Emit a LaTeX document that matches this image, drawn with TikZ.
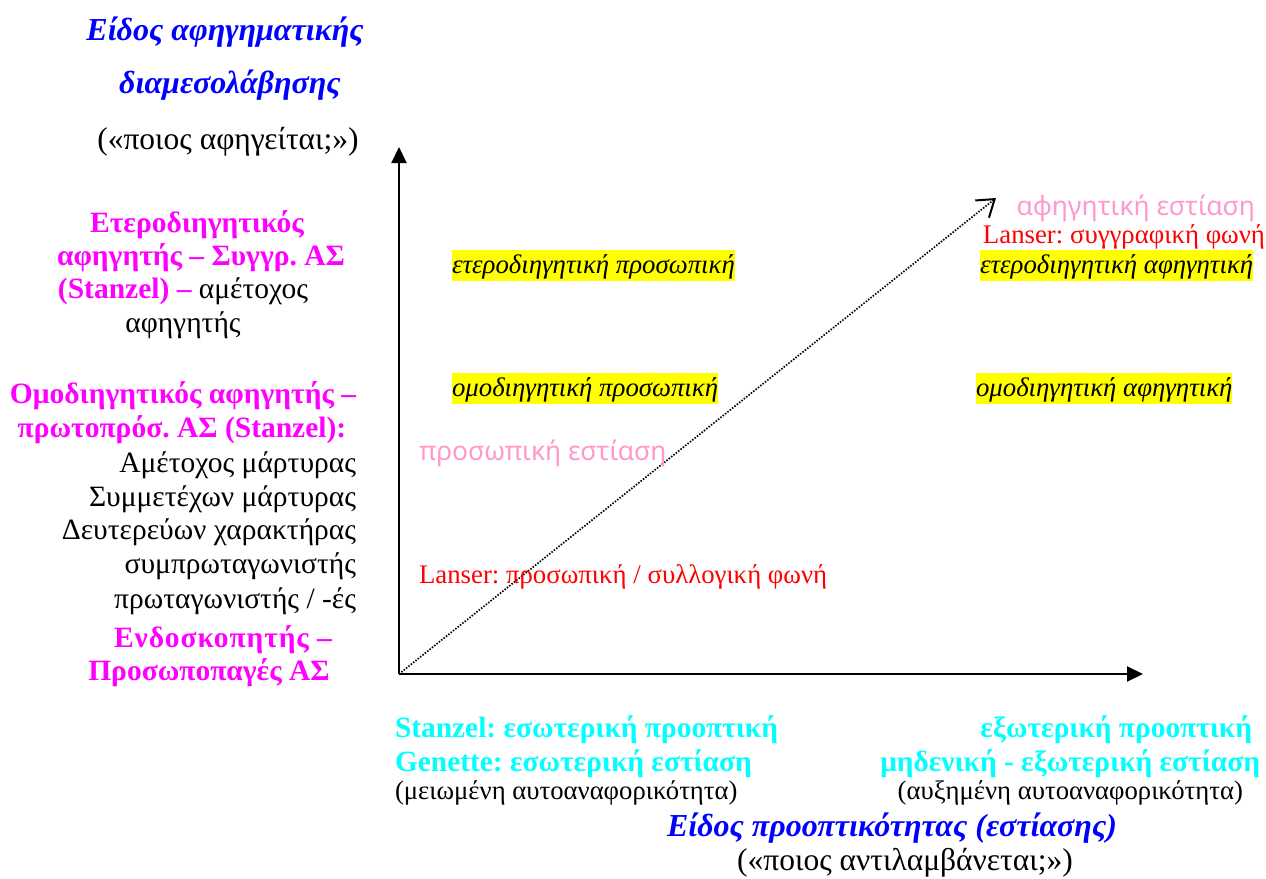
\documentclass[tikz,border=0pt]{standalone}
\usepackage{fontspec}
\setmainfont{Liberation Serif}
\newfontfamily\pinkfamily{Noto Sans}
\usetikzlibrary{arrows.meta}
\definecolor{cBlue}{RGB}{0,0,255}
\definecolor{cMag}{RGB}{255,0,255}
\definecolor{cCyan}{RGB}{0,255,255}
\definecolor{cRed}{RGB}{255,0,0}
\definecolor{cPink}{RGB}{255,153,204}
\definecolor{cYel}{RGB}{255,255,0}
\frenchspacing
\begin{document}
\begin{tikzpicture}[x=1pt,y=-1pt,
  every node/.style={inner sep=0pt,outer sep=0pt},
  reg/.style={font=\fontsize{29.5}{34}\selectfont,text=black},
  quote/.style={font=\fontsize{31.5}{36}\selectfont,text=black},
  small/.style={font=\fontsize{26.7}{32}\selectfont,text=black},
  heading/.style={font=\fontsize{32}{36}\selectfont\bfseries\itshape,text=cBlue},
  magb/.style={font=\fontsize{29.5}{34}\selectfont\bfseries,text=cMag},
  cyanb/.style={font=\fontsize{29.4}{34}\selectfont\bfseries,text=cCyan},
  lanser/.style={font=\fontsize{26.8}{32}\selectfont,text=cRed},
  focal/.style={font=\pinkfamily\fontsize{26.5}{30}\selectfont,text=cPink},
  hl/.style={font=\fontsize{26.8}{32}\selectfont\itshape,text=black,fill=cYel,text height=23pt,text depth=8pt},
  axis/.style={line width=2pt,-{Triangle[length=16pt,width=15pt]}},
  diag/.style={line width=1.7pt,dash pattern=on 1.5pt off 1.5pt,-{Straight Barb[length=16pt,width=22pt,line width=2pt]}}
]
\useasboundingbox (0,0) rectangle (1266,878);
% axes
\coordinate (O) at (399,674);
\coordinate (Ytip) at (399,147);
\coordinate (Xtip) at (1143,674);
\coordinate (Dtip) at (996,198);
\draw[axis] (O) -- (Ytip);
\draw[axis] (O) -- (Xtip);
\draw[diag] (O) -- (Dtip);
% left column
\node[heading,anchor=base] (h1) at (225,40) {Είδος αφηγηματικής};
\node[heading,anchor=base] (h2) at (230,93) {διαμεσολάβησης};
\node[quote,anchor=base] (h3) at (228,149) {(«ποιος αφηγείται;»)};
\node[magb,anchor=base] (e1) at (197,232) {Ετεροδιηγητικός};
\node[magb,anchor=base] (e2) at (201,265) {αφηγητής – Συγγρ. ΑΣ};
\node[magb,anchor=base] (e3) at (183,298) {(Stanzel) –\textcolor{black}{\mdseries\ αμέτοχος}};
\node[reg,anchor=base] (e4) at (183,332) {αφηγητής};
\node[magb,anchor=base] (o1) at (183,403) {Ομοδιηγητικός αφηγητής –};
\node[magb,anchor=base] (o2) at (182,437) {πρωτοπρόσ. ΑΣ (Stanzel):};
\node[reg,anchor=base east] (o3) at (356,472) {Αμέτοχος μάρτυρας};
\node[reg,anchor=base east] (o4) at (356,506) {Συμμετέχων μάρτυρας};
\node[reg,anchor=base east] (o5) at (356,539) {Δευτερεύων χαρακτήρας};
\node[reg,anchor=base east] (o6) at (356,573) {συμπρωταγωνιστής};
\node[reg,anchor=base east] (o7) at (356,608) {πρωταγωνιστής / -ές};
\node[magb,anchor=base] (o8) at (223,647) {\addfontfeature{LetterSpace=3}Ενδοσκοπητής –};
\node[magb,anchor=base] (o9) at (209,680) {Προσωποπαγές ΑΣ};
% inside
\node[focal,anchor=base east] (fa) at (1255,215) {αφηγητική εστίαση};
\node[lanser,anchor=base east] (la) at (1265,243) {Lanser: συγγραφική φωνή};
\node[hl,anchor=base west] (q1) at (452,273) {ετεροδιηγητική προσωπική};
\node[hl,anchor=base west] (q2) at (980,273) {ετεροδιηγητική αφηγητική};
\node[hl,anchor=base west] (q3) at (452,396) {ομοδιηγητική προσωπική};
\node[hl,anchor=base west] (q4) at (976,396) {ομοδιηγητική αφηγητική};
\node[focal,anchor=base west] (fp) at (419,460) {προσωπική εστίαση};
\node[lanser,anchor=base west] (lp) at (419,583) {Lanser: προσωπική / συλλογική φωνή};
% bottom
\node[cyanb,anchor=base west] (b1) at (395,737) {Stanzel: εσωτερική προοπτική};
\node[cyanb,anchor=base west] (b2) at (395,771) {Genette: εσωτερική εστίαση};
\node[small,anchor=base west] (b3) at (395,799) {(μειωμένη αυτοαναφορικότητα)};
\node[cyanb,anchor=base east] (c1) at (1252,737) {εξωτερική προοπτική};
\node[cyanb,anchor=base east] (c2) at (1260,771) {μηδενική - εξωτερική εστίαση};
\node[small,anchor=base east] (c3) at (1243,799) {(αυξημένη αυτοαναφορικότητα)};
\node[heading,anchor=base] (x1) at (892,836) {Είδος προοπτικότητας (εστίασης)};
\node[quote,anchor=base] (x2) at (905,870) {(«ποιος αντιλαμβάνεται;»)};
\end{tikzpicture}
\end{document}
